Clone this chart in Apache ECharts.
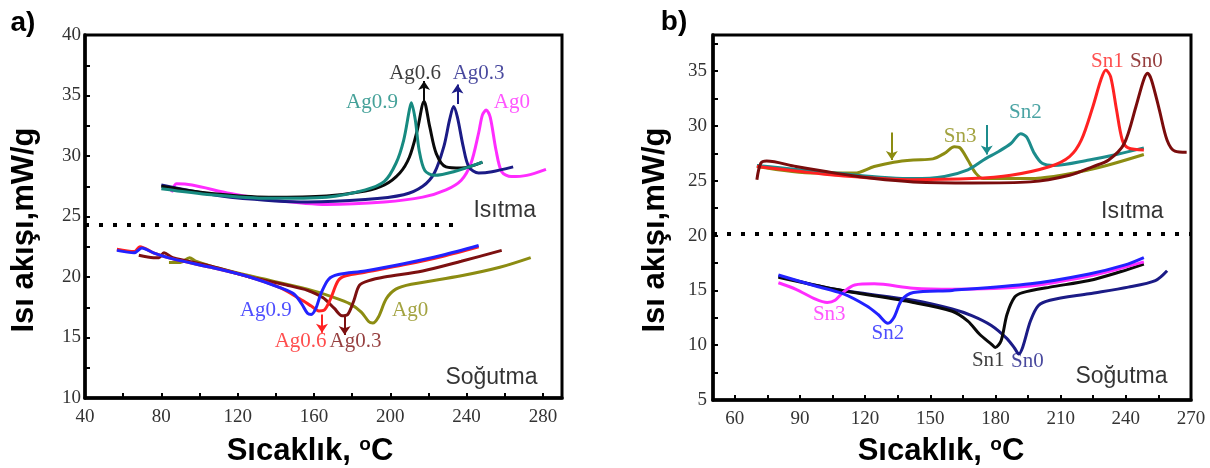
<!DOCTYPE html>
<html>
<head>
<meta charset="utf-8">
<script src="https://cdn.jsdelivr.net/npm/echarts@6/dist/echarts.min.js"></script>
<style>
  html, body { margin: 0; padding: 0; background: #fff; }
  #chart { width: 1210px; height: 468px; }
</style>
</head>
<body>
<div id="chart"></div>
<script>
// ---- a) Ag series: DSC heating / cooling curves [temperature °C, heat flow mW/g]
const ag0Heat  = [[85.4,27.0],[88.0,27.7],[96.1,27.6],[116.2,26.9],[136.4,26.4],[166.6,26.0],[196.9,26.2],[217.0,26.6],[229.2,27.2],[237.2,28.0],[242.3,29.4],[246.3,31.9],[248.3,33.4],[250.3,33.8],[252.4,33.2],[255.4,30.5],[258.4,28.7],[263.4,28.3],[271.5,28.4],[281.6,28.9]];
const ag03Heat = [[80,27.6],[96.1,27.1],[116.2,26.6],[156.6,26.2],[186.9,26.4],[207,26.8],[217,27.5],[223.1,28.6],[228.1,30.8],[231.1,33.0],[233.2,34.1],[235.2,33.2],[238.2,30.8],[241.2,29.1],[246.3,28.6],[253.3,28.7],[264.4,29.1]];
const ag06Heat = [[80,27.5],[106.2,26.9],[136.4,26.6],[166.6,26.7],[186.9,27.1],[196.9,27.6],[205,28.6],[210,29.9],[214.1,32.1],[217.7,34.5],[220.7,32.4],[224.1,30.2],[229.2,29.1],[237.2,29.0],[248.3,29.5]];
const ag09Heat = [[80,27.3],[106.2,26.8],[136.4,26.5],[166.6,26.6],[186.9,27.2],[196.9,27.9],[203,29.4],[207,31.3],[210,33.8],[211,34.4],[213.1,33.0],[215.1,30.5],[218.1,28.8],[223.1,28.4],[233.2,28.7],[248.3,29.5]];

const ag0Cool  = [[84,21.2],[90,21.2],[94.8,21.6],[98,21.3],[106.1,20.9],[126.3,20.1],[156.6,19.0],[170.7,18.3],[178.7,17.8],[184.8,17.1],[188.8,16.3],[190.8,16.2],[193.8,16.7],[197.9,18.2],[202.9,19.0],[211,19.4],[237.2,20.1],[257.4,20.8],[273.6,21.6]];
const ag03Cool = [[68.2,21.8],[75.9,21.6],[78.8,21.6],[81.4,22.0],[86,21.6],[106.1,20.9],[126.3,20.0],[146.5,19.3],[156.6,18.9],[164.6,18.3],[170.7,17.4],[174.7,16.8],[177.7,16.9],[180.8,18.0],[183.8,19.3],[188.8,19.7],[196.9,20.0],[217,20.5],[237.2,21.3],[258.4,22.2]];
const ag06Cool = [[56.7,22.3],[65.8,22.1],[68.8,22.5],[75.9,22.0],[86,21.5],[106.1,20.8],[126.3,20.0],[142.5,19.1],[152.5,18.2],[158.6,17.6],[162.6,17.2],[165.6,17.3],[168.7,18.2],[172.7,19.7],[176.7,20.1],[186.8,20.4],[207,21.0],[227.2,21.7],[246.3,22.5]];
const ag09Cool = [[56.7,22.2],[65.8,22.0],[69.8,22.4],[75.9,22.0],[86,21.5],[106.1,20.8],[126.3,20.0],[142.5,19.1],[149.5,18.6],[153.5,17.8],[156.6,17.0],[158.6,16.9],[161,17.4],[163.6,18.6],[167.6,19.8],[172.7,20.2],[186.8,20.5],[207,21.1],[227.2,21.8],[246.3,22.6]];

// ---- b) Sn series
const sn0Heat = [[70.2,25.1],[72,26.6],[74.7,26.8],[88.2,26.3],[106.2,25.7],[124.2,25.2],[142.2,24.9],[169.1,24.8],[196.1,24.9],[214.1,25.5],[224.9,26.3],[232.1,26.9],[239.3,28.4],[244.7,31.8],[248.2,34.2],[250,34.8],[251.8,34.2],[255.4,31.5],[259,28.7],[262.6,27.7],[268,27.6]];
const sn1Heat = [[70.2,26.3],[88.2,25.9],[106.2,25.5],[142.2,25.1],[169.1,25.2],[187.1,25.5],[205.1,26.3],[214.1,27.2],[219.5,28.7],[224.9,31.8],[228.5,34.2],[230.8,35.1],[233,34.5],[235.7,31.5],[238.4,28.7],[241.1,28.0],[248.3,27.8]];
const sn2Heat = [[70.2,26.4],[106.2,25.7],[142.2,25.2],[156.5,25.4],[167.3,26.0],[174.5,26.9],[181.7,27.7],[187.1,28.4],[191.6,29.3],[194.3,29.0],[197.9,27.5],[201.5,26.6],[206.9,26.4],[223.1,26.9],[235.7,27.4],[248.3,28.0]];
const sn3Heat = [[70.2,26.3],[97.2,25.7],[115.2,25.7],[124.2,26.3],[133.2,26.7],[142.2,26.9],[151.2,27.0],[156.5,27.5],[161.1,28.1],[163.7,28.0],[167.3,26.9],[170.9,25.7],[174.5,25.2],[196.1,25.2],[223.1,26.0],[248.3,27.4]];

const sn0Cool = [[80.1,16.3],[106.2,15.1],[142.2,14.1],[160.1,13.3],[169.1,12.7],[178.1,11.8],[185.3,10.6],[188.9,9.7],[190.7,9.2],[192.5,9.8],[196.1,12.2],[199.7,13.6],[205.1,14.1],[223.1,14.7],[241.1,15.3],[253.6,15.9],[259,16.8]];
const sn1Cool = [[80.1,16.2],[106.2,15.1],[142.2,13.9],[160.1,13.1],[167.3,12.2],[172.7,11.0],[178.1,10.1],[179.9,9.8],[182.6,10.4],[185.3,12.8],[188.9,14.4],[192.5,14.8],[205.1,15.3],[223.1,15.9],[237.5,16.7],[248.3,17.4]];
const sn2Cool = [[80.1,16.4],[97.2,15.4],[109.8,14.7],[120.6,13.6],[126,12.8],[130.5,12.0],[133.2,12.5],[136.8,14.1],[142.2,14.8],[160.1,15.0],[196.1,15.6],[223.1,16.5],[239.3,17.3],[248.3,18.0]];
const sn3Cool = [[80.1,15.7],[88.2,15.1],[97.2,14.2],[102.6,13.9],[106.2,14.1],[109.8,14.8],[115.2,15.5],[124.2,15.6],[142.2,15.2],[160.1,15.1],[196.1,15.4],[223.1,16.3],[239.3,17.1],[248.3,17.6]];

// ---- axis ranges and ticks
const agTempRange = [40, 290];
const agTempLabels = [40, 80, 120, 160, 200, 240, 280];
const agTempTicks = [40, 60, 80, 100, 120, 140, 160, 180, 200, 220, 240, 260, 280];
const agFlowRange = [10, 40];
const agFlowLabels = [10, 15, 20, 25, 30, 35, 40];
const agFlowTicks = [10, 12.5, 15, 17.5, 20, 22.5, 25, 27.5, 30, 32.5, 35, 37.5];

const snTempRange = [50, 270];
const snTempLabels = [60, 90, 120, 150, 180, 210, 240, 270];
const snTempTicks = [60, 75, 90, 105, 120, 135, 150, 165, 180, 195, 210, 225, 240, 255];
const snFlowRange = [5, 38.3];
const snFlowLabels = [5, 10, 15, 20, 25, 30, 35];
const snFlowTicks = [5, 7.5, 10, 12.5, 15, 17.5, 20, 22.5, 25, 27.5, 30, 32.5, 35, 37.5];

// ---- curve names placed next to the peaks [text, x, y]
const agHeatTags = [['Ag0', 263.7, 34.4], ['Ag0.3', 246.3, 36.8], ['Ag0.6', 213, 36.8], ['Ag0.9', 190.4, 34.4]];
const agCoolTags = [['Ag0.9', 134.8, 17.2], ['Ag0.6', 153, 14.7], ['Ag0.3', 181.8, 14.7], ['Ag0', 210.4, 17.2]];
const snHeatTags = [['Sn1', 231.5, 35.9], ['Sn0', 249.5, 35.9], ['Sn2', 193.8, 31.2], ['Sn3', 163.7, 29.0]];
const snCoolTags = [['Sn3', 103.5, 12.8], ['Sn2', 130.5, 11.1], ['Sn1', 176.7, 8.6], ['Sn0', 194.7, 8.5]];

// ---- arrows [x, yStart, yEnd]
const agHeatArrows = [[217.7, 34.5, 36.2], [235.2, 34.3, 35.9]];
const agCoolArrows = [[164.2, 16.9, 15.4], [176.1, 16.8, 15.2]];
const snHeatArrows = [[132.3, 29.4, 26.9], [176, 30.1, 27.4]];

// ---- heating / cooling separators [xStart, xEnd, y]
const agDivider = [40, 235, 24.3];
const snDivider = [50, 270, 20.2];
// section captions [text, x, y]
const agSections = [['Isıtma', 260, 25.5], ['Soğutma', 253, 11.7]];
const snSections = [['Isıtma', 243, 22.2], ['Soğutma', 238, 7.1]];

const C = {
  magenta: '#ff2cff', navy: '#1b1b86', black: '#0a0a0a', teal: '#178a80',
  blue: '#2222ff', red: '#ff2222', maroon: '#7c1010', olive: '#8c8c12',
  tealB: '#1c8c8c', darkRed: '#7a0c0c'
};
const SERIF = 'Liberation Serif';
const SANS = 'Liberation Sans';

function axis(gridIndex, range, labels, ticks, margin) {
  return {
    type: 'value', gridIndex, min: range[0], max: range[1],
    axisLine: { show: true, onZero: false, lineStyle: { color: '#000', width: 3.5 } },
    axisTick: { show: true, inside: true, length: 5, customValues: ticks, lineStyle: { color: '#000', width: 2 } },
    axisLabel: { customValues: labels, color: '#333', fontFamily: SERIF, fontSize: 19, margin },
    splitLine: { show: false }
  };
}

function curve(idx, data, color) {
  return {
    type: 'line', xAxisIndex: idx, yAxisIndex: idx, data,
    showSymbol: false, symbol: 'none', smooth: 0.3,
    lineStyle: { color, width: 3 }, z: 3, silent: true
  };
}

function arrows(idx, list, color) {
  return {
    type: 'line', xAxisIndex: idx, yAxisIndex: idx, data: [], silent: true,
    markLine: {
      silent: true, animation: false, symbol: ['none', 'arrow'], symbolSize: 9,
      lineStyle: { color, width: 2, type: 'solid' }, label: { show: false },
      data: list.map(a => [{ coord: [a[0], a[1]] }, { coord: [a[0], a[2]] }])
    }
  };
}

function divider(idx, d) {
  return {
    type: 'line', xAxisIndex: idx, yAxisIndex: idx, data: [], silent: true,
    markLine: {
      silent: true, animation: false, symbol: ['none', 'none'],
      lineStyle: { color: '#000', width: 4, type: [4, 10], cap: 'butt' }, label: { show: false },
      data: [[{ coord: [d[0], d[2]] }, { coord: [d[1], d[2]] }]]
    }
  };
}

function tags(idx, list, colors, font, size) {
  return {
    type: 'scatter', xAxisIndex: idx, yAxisIndex: idx, symbolSize: 1, silent: true, z: 6,
    itemStyle: { color: 'rgba(0,0,0,0)' },
    label: { show: true, position: 'inside', formatter: '{b}', fontFamily: font, fontSize: size },
    data: list.map((t, i) => ({ name: t[0], value: [t[1], t[2]], label: { color: colors[i] } }))
  };
}

const chart = echarts.init(document.getElementById('chart'), null, { renderer: 'canvas' });

const xTitleRich = {
  t: { fontFamily: SANS, fontWeight: 'bold', fontSize: 31, color: '#000' },
  s: { fontFamily: SANS, fontWeight: 'bold', fontSize: 19, color: '#000', verticalAlign: 'top', lineHeight: 32 }
};

chart.setOption({
  animation: false,
  backgroundColor: '#fff',
  grid: [
    { left: 85, top: 35, width: 477, height: 363, show: true, borderColor: '#000', borderWidth: 3 },
    { left: 713, top: 35, width: 478, height: 365, show: true, borderColor: '#000', borderWidth: 3 }
  ],
  xAxis: [
    axis(0, agTempRange, agTempLabels, agTempTicks, 10),
    axis(1, snTempRange, snTempLabels, snTempTicks, 10)
  ],
  yAxis: [
    axis(0, agFlowRange, agFlowLabels, agFlowTicks, 4),
    axis(1, snFlowRange, snFlowLabels, snFlowTicks, 6)
  ],
  series: [
    curve(0, ag0Heat, C.magenta),
    curve(0, ag03Heat, C.navy),
    curve(0, ag06Heat, C.black),
    curve(0, ag09Heat, C.teal),
    curve(0, ag0Cool, C.olive),
    curve(0, ag03Cool, C.maroon),
    curve(0, ag06Cool, C.red),
    curve(0, ag09Cool, C.blue),
    arrows(0, [agHeatArrows[0]], C.black),
    arrows(0, [agHeatArrows[1]], C.navy),
    arrows(0, [agCoolArrows[0]], C.red),
    arrows(0, [agCoolArrows[1]], C.maroon),
    divider(0, agDivider),
    tags(0, agHeatTags, [C.magenta, C.navy, C.black, C.teal], SERIF, 21),
    tags(0, agCoolTags, [C.blue, C.red, C.maroon, C.olive], SERIF, 21),
    tags(0, agSections, ['#000', '#000'], SANS, 23),

    curve(1, sn3Heat, C.olive),
    curve(1, sn2Heat, C.tealB),
    curve(1, sn1Heat, C.red),
    curve(1, sn0Heat, C.darkRed),
    curve(1, sn0Cool, C.navy),
    curve(1, sn1Cool, C.black),
    curve(1, sn3Cool, C.magenta),
    curve(1, sn2Cool, C.blue),
    arrows(1, [snHeatArrows[0]], C.olive),
    arrows(1, [snHeatArrows[1]], C.tealB),
    divider(1, snDivider),
    tags(1, snHeatTags, [C.red, C.darkRed, C.tealB, C.olive], SERIF, 21),
    tags(1, snCoolTags, [C.magenta, C.blue, C.black, C.navy], SERIF, 21),
    tags(1, snSections, ['#000', '#000'], SANS, 23)
  ],
  graphic: [
    { type: 'text', x: 23, y: 23, style: { text: 'a)', font: 'bold 28px ' + SANS, fill: '#000', align: 'center', verticalAlign: 'middle' } },
    { type: 'text', x: 674, y: 22, style: { text: 'b)', font: 'bold 28px ' + SANS, fill: '#000', align: 'center', verticalAlign: 'middle' } },
    { type: 'text', x: 24, y: 230, rotation: Math.PI / 2, style: { text: 'Isı akışı,mW/g', font: 'bold 31px ' + SANS, fill: '#000', align: 'center', verticalAlign: 'middle' } },
    { type: 'text', x: 655, y: 230, rotation: Math.PI / 2, style: { text: 'Isı akışı,mW/g', font: 'bold 31px ' + SANS, fill: '#000', align: 'center', verticalAlign: 'middle' } },
    { type: 'text', x: 310, y: 451, style: { text: '{t|Sıcaklık, }{s|o}{t|C}', rich: xTitleRich, align: 'center', verticalAlign: 'middle' } },
    { type: 'text', x: 941, y: 451, style: { text: '{t|Sıcaklık, }{s|o}{t|C}', rich: xTitleRich, align: 'center', verticalAlign: 'middle' } }
  ]
});
</script>
</body>
</html>
